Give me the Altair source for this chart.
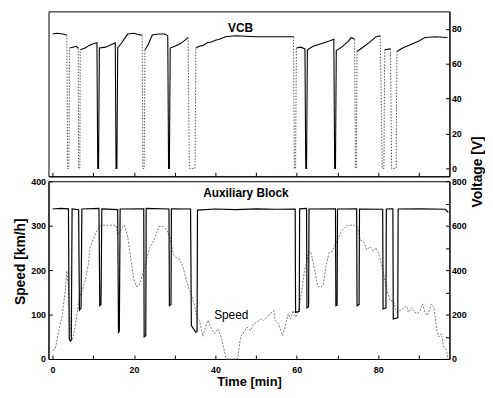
import altair as alt
import pandas as pd

# ---------------- data ----------------
# Top panel: VCB voltage [V]; style = line style of the segment ending at the point
vcb_t = [0, 1, 2.5, 3.5, 3.7, 4.0, 4.2, 5, 5.8, 6.3, 6.4, 6.7, 6.8, 8, 9, 10, 10.9, 11.1, 11.3, 11.5,
         13, 14.5, 15.4, 15.6, 15.8, 16.0, 17, 18, 18.5, 20, 21.5, 22.0, 22.2, 22.5, 22.7, 23.5, 24.5,
         26, 27.5, 28.3, 28.5, 28.7, 28.9, 30, 31, 32, 33.3, 33.6, 35.0, 35.2, 36, 37, 38, 39, 40, 41,
         42.5, 45, 50, 55, 59.2, 59.4, 59.7, 59.9, 61, 62, 62.2, 62.4, 62.6, 64, 66, 68, 69.1, 69.3,
         69.5, 69.7, 71, 72.5, 73.4, 74.2, 74.4, 74.6, 74.8, 76, 78, 79.5, 80.5, 81.0, 81.4, 81.6, 83,
         83.3, 84.4, 84.6, 86, 88, 90, 91.5, 94, 97]
vcb_v = [77, 77.5, 77, 76.5, 0, 0, 69, 69.5, 70, 69, 0, 0, 68, 69, 70.5, 71.5, 72, 0, 0, 69,
         69.5, 71, 72, 0, 0, 69, 72, 75.5, 77, 77.5, 76.5, 76.5, 0, 0, 68, 71, 76.5,
         77, 77, 76, 0, 0, 69, 70, 71, 72.5, 75, 0, 0, 69, 70, 70.5, 72, 72.5, 73.5, 74,
         75.5, 76, 75.5, 75.5, 75.5, 0, 0, 69, 69.5, 68.5, 0, 0, 68, 70, 71.5, 73, 74, 0,
         0, 67.5, 69.5, 72.5, 75, 74, 0, 0, 67, 69, 72.5, 75.5, 76, 0, 0, 68, 68.5,
         0, 0, 67, 69, 71, 73, 75, 75.5, 75]
vcb_style = ["s", "s", "s", "s", "d", "d", "d", "s", "s", "s", "d", "d", "d", "s", "s", "s", "s", "s", "s", "s",
             "s", "s", "s", "s", "s", "s", "s", "s", "s", "s", "s", "s", "d", "d", "d", "s", "s",
             "s", "s", "s", "s", "s", "s", "s", "s", "s", "s", "d", "d", "d", "s", "s", "s", "s", "s", "s",
             "s", "s", "s", "s", "s", "d", "d", "d", "s", "s", "s", "s", "s", "s", "s", "s", "s", "s",
             "s", "s", "s", "s", "s", "s", "d", "d", "d", "s", "s", "s", "s", "d", "d", "d", "s",
             "d", "d", "d", "s", "s", "s", "s", "s", "s"]

# Bottom panel: Auxiliary Block voltage [V] (right axis)
aux_t = [0, 2, 3.9, 4.1, 4.4, 4.6, 4.8, 6.4, 6.6, 7.0, 7.2, 11.4, 11.6, 11.9, 12.1, 16.0, 16.2, 16.4, 16.6,
         22.4, 22.5, 22.9, 23.0, 28.6, 28.7, 29.1, 29.2, 33.9, 34.1, 35.2, 35.5, 35.6, 40, 45, 50, 55,
         59.6, 59.7, 60.6, 60.7, 62.4, 62.5, 62.9, 63.0, 69.5, 69.6, 69.9, 70.0, 74.7, 74.8, 75.3, 75.4,
         81.1, 81.2, 81.9, 82.0, 83.6, 83.7, 84.8, 84.9, 90, 96.5, 97.2]
aux_v = [675, 678, 676, 90, 80, 85, 675, 672, 220, 230, 675, 678, 240, 245, 676, 672, 120, 125, 675,
         676, 100, 105, 678, 675, 240, 245, 676, 675, 150, 120, 125, 670, 675, 672, 676, 674,
         675, 210, 215, 676, 678, 230, 235, 675, 676, 240, 242, 675, 676, 240, 245, 675,
         674, 225, 230, 675, 676, 180, 185, 675, 676, 674, 660]

# Bottom panel: Speed [km/h] (left axis)
speed_t = [0, 0.7, 1.5, 2.3, 3.1, 3.5, 3.9, 4.3, 4.75, 5.1, 5.9, 6.6, 7.2, 8.0, 8.8, 9.2, 9.8, 10.4, 11.2,
           12.0, 15.6, 16.0, 16.8, 17.6, 18.4, 19.2, 19.9, 20.5, 21.1, 21.7, 22.5, 23.0, 23.8, 24.6, 25.4,
           26.1, 27.3, 28.1, 28.9, 29.7, 30.5, 31.3, 32.1, 32.9, 33.7, 34.3, 34.9, 35.6, 36.1, 36.9, 37.8,
           38.2, 39.0, 39.8, 40.6, 41.4, 42.0, 42.6, 45.4, 46.2, 47.0, 47.8, 48.6, 49.4, 50.2, 51.0, 51.8,
           52.7, 53.5, 54.3, 54.7, 55.5, 56.5, 57.1, 57.9, 58.5, 59.1, 59.7, 60.3, 61.1, 61.9, 62.5, 62.9,
           63.5, 64.3, 65.1, 65.9, 66.5, 67.1, 67.9, 68.7, 69.4, 70.4, 71.2, 72.4, 74.0, 75.0, 75.6, 76.4,
           77.2, 78.0, 78.8, 79.4, 80.2, 81.2, 82.0, 82.9, 83.7, 84.5, 85.3, 86.1, 86.9, 87.4, 88.1, 88.9,
           89.7, 90.3, 90.9, 91.5, 92.1, 93.1, 93.7, 94.4, 94.9, 95.5, 96.1, 96.8, 97.1]
speed_v = [20, 24, 64, 94, 153, 198, 161, 79, 42, 50, 94, 138, 153, 176, 213, 250, 264, 279, 294,
           301, 301, 279, 290, 301, 279, 227, 183, 164, 164, 176, 205, 220, 250, 261, 279,
           298, 298, 290, 272, 235, 227, 224, 205, 176, 153, 138, 120, 90, 87, 51, 79,
           87, 68, 57, 68, 50, 27, 0, 0, 50, 61, 72, 64, 79, 83, 90, 87,
           94, 102, 109, 87, 79, 53, 72, 102, 90, 109, 94, 105, 146, 198, 220, 242,
           239, 205, 164, 161, 168, 205, 239, 242, 257, 276, 290, 301, 301, 294, 268, 264,
           246, 253, 242, 250, 235, 198, 161, 131, 131, 105, 109, 113, 120, 105, 116, 105,
           102, 109, 124, 105, 98, 124, 116, 64, 50, 57, 27, 20, 0]

top_labels = ["VCB"]
top_label_t = [46.2]
top_label_v = [80.6]
aux_label = ["Auxiliary Block"]
aux_label_t = [47.5]
aux_label_s = [373]
speed_label = ["Speed"]
speed_label_t = [43.9]
speed_label_s = [98]

x_ticks = list(range(0, 100, 10))
vcb_ticks = list(range(0, 90, 10))
speed_ticks = list(range(0, 425, 25))
aux_ticks = list(range(0, 900, 100))


# --------------- build segment table for the top trace ---------------
def segments(t, v, style):
    rows = []
    seg = 0
    for i in range(1, len(t)):
        if i == 1 or style[i] != style[i - 1]:
            seg += 1
            rows.append(dict(t=t[i - 1], v=v[i - 1], seg=seg, style=style[i], o=len(rows)))
        rows.append(dict(t=t[i], v=v[i], seg=seg, style=style[i], o=len(rows)))
    return pd.DataFrame(rows)


top_df = segments(vcb_t, vcb_v, vcb_style)
aux_df = pd.DataFrame({"t": aux_t, "a": aux_v})
speed_df = pd.DataFrame({"t": speed_t, "s": speed_v})
top_lab_df = pd.DataFrame({"t": top_label_t, "v": top_label_v, "label": top_labels})
aux_lab_df = pd.DataFrame({"t": aux_label_t, "s": aux_label_s, "label": aux_label})
spd_lab_df = pd.DataFrame({"t": speed_label_t, "s": speed_label_s, "label": speed_label})

FONT = "Liberation Sans"
TICK = {"expr": "-4"}

x_scale = alt.Scale(domain=[-1, 97.5], nice=False, zero=False)

x_top = alt.X("t:Q", scale=x_scale,
              axis=alt.Axis(values=x_ticks, labels=False, title=None, tickSize=TICK))
x_bot = alt.X("t:Q", scale=x_scale,
              axis=alt.Axis(values=x_ticks, title="Time [min]", tickSize=TICK, labelPadding=11,
                            labelExpr="datum.value % 20 == 0 ? datum.label : ''", titlePadding=1,
                            titleFontSize=13))

y_top = alt.Y("v:Q", scale=alt.Scale(domain=[-4.5, 90], nice=False, zero=False),
              axis=alt.Axis(orient="right", values=vcb_ticks, title=None, tickSize=TICK, labelPadding=6,
                            labelExpr="datum.value % 20 == 0 ? datum.label : ''"))

top_base = alt.Chart(top_df).encode(x=x_top, y=y_top, detail="seg:N", order="o:Q")
top_solid = top_base.transform_filter("datum.style == 's'").mark_line(color="black", strokeWidth=1.1)
top_dot = top_base.transform_filter("datum.style == 'd'").mark_line(
    color="#555555", strokeWidth=1, strokeDash=[1.5, 1.5])
top_text = alt.Chart(top_lab_df).mark_text(font=FONT, fontSize=12, fontWeight="bold", color="black").encode(
    x=alt.X("t:Q", scale=x_scale), y=alt.Y("v:Q"), text="label:N")

top = alt.layer(top_solid, top_dot, top_text).properties(width=406, height=167)

y_speed = alt.Y("s:Q", scale=alt.Scale(domain=[0, 400], nice=False),
                axis=alt.Axis(orient="left", values=speed_ticks, title="Speed [km/h]", tickSize=TICK,
                              labelPadding=7, labelExpr="datum.value % 50 == 0 ? datum.label : ''",
                              titleX=-28, titleY=81, titleAngle=270, titleBaseline="middle"))
y_aux = alt.Y("a:Q", scale=alt.Scale(domain=[0, 800], nice=False),
              axis=alt.Axis(orient="right", values=aux_ticks, title="Voltage [V]", tickSize=TICK,
                            labelPadding=6, labelExpr="datum.value % 200 == 0 ? datum.label : ''",
                            titleX=28, titleY=-10, titleAngle=270, titleBaseline="middle"))

speed_line = alt.Chart(speed_df).mark_line(color="#777777", strokeWidth=1, strokeDash=[2, 1.5]).encode(
    x=x_bot, y=y_speed)
aux_text = alt.Chart(aux_lab_df).mark_text(font=FONT, fontSize=12, fontWeight="bold", color="black").encode(
    x=alt.X("t:Q", scale=x_scale), y=alt.Y("s:Q"), text="label:N")
spd_text = alt.Chart(spd_lab_df).mark_text(font=FONT, fontSize=12, color="black").encode(
    x=alt.X("t:Q", scale=x_scale), y=alt.Y("s:Q"), text="label:N")
aux_line = alt.Chart(aux_df).mark_line(color="black", strokeWidth=1.2).encode(x=x_bot, y=y_aux)

bottom = alt.layer(alt.layer(speed_line, aux_text, spd_text), aux_line).resolve_scale(y="independent").properties(
    width=406, height=180)

chart = alt.vconcat(top, bottom, spacing=5, bounds="flush").properties(
    padding={"left": 5, "top": 0, "right": 0, "bottom": 0}
).configure_view(stroke="black", strokeWidth=1).configure_axis(
    labelFont=FONT, labelFontSize=9, labelFontWeight="bold", labelColor="black",
    titleFont=FONT, titleFontSize=14, titleFontWeight="bold", titleColor="black",
    domainColor="black", tickColor="black", grid=False, domainWidth=1, tickWidth=1
)

chart.save("out.html", embed_options={"renderer": "svg", "actions": False})
